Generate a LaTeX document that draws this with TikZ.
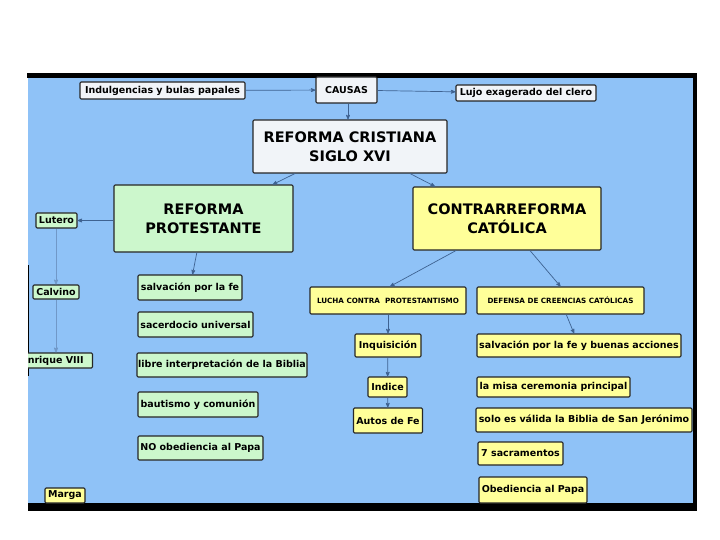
\documentclass[tikz,border=0pt]{standalone}
\usepackage{fontspec}
\setsansfont{DejaVu Sans}
\usepackage{xcolor}
\usepackage{tikz}
\usetikzlibrary{arrows, calc}

\definecolor{fondo}{RGB}{143,194,247}
\definecolor{verdeclaro}{RGB}{204,247,204}
\definecolor{amarilloclaro}{RGB}{255,255,153}
\definecolor{grisclaro}{RGB}{241,244,248}
\definecolor{linea}{RGB}{62,98,145}
\definecolor{lineaclara}{RGB}{112,152,200}

\begin{document}
\begin{tikzpicture}[x=1pt, y=-1pt,
				>=stealth',
				caja/.style={draw=black!85, line width=1.1pt, rounded corners=1.2pt, inner sep=0pt, align=center, text=black, font=\sffamily\bfseries\fontsize{9.5}{11}\selectfont},
				gris/.style={caja, fill=grisclaro},
				verde/.style={caja, fill=verdeclaro},
				amarillo/.style={caja, fill=amarilloclaro},
				titulo/.style={font=\sffamily\bfseries\fontsize{14.5}{19.5}\selectfont},
				mini/.style={font=\sffamily\bfseries\fontsize{7.2}{8}\selectfont},
				enlace/.style={->, draw=linea, line width=0.7pt},
				enlaceclaro/.style={->, draw=lineaclara, line width=0.8pt}]
				
				\useasboundingbox (0,0) rectangle (720,540);
				\fill[white] (0,0) rectangle (720,540);
				\fill[black] (27,73) rectangle (697,78);
				\fill[black] (693,73) rectangle (697,511);
				\fill[black] (28,503) rectangle (697,511);
				\fill[fondo] (28,78) rectangle (693,503);
				\draw[black, line width=1.2pt] (28.5,265) -- (28.5,376);
				
				\node[gris, minimum width=165, minimum height=17] (indulgencias) at (162.5,90.5) {Indulgencias y bulas papales};
				\node[gris, minimum width=61, minimum height=26] (causas) at (346.5,90) {CAUSAS};
				\node[gris, minimum width=140, minimum height=16] (lujo) at (526,93) {Lujo exagerado del clero};
				\node[gris, titulo, minimum width=194, minimum height=53] (cristiana) at (350,146.5) {REFORMA CRISTIANA\\SIGLO XVI};
				
				\node[verde, titulo, minimum width=179, minimum height=67] (protestante) at (203.5,218.5) {REFORMA\\PROTESTANTE};
				\node[amarillo, titulo, minimum width=188, minimum height=63] (contra) at (507,218.5) {CONTRARREFORMA\\CATÓLICA};
				
				\node[verde, minimum width=41, minimum height=15] (lutero) at (56.5,220.5) {Lutero};
				\node[verde, minimum width=46, minimum height=14] (calvino) at (56,292) {Calvino};
				\begin{scope}
					\clip (28,78) rectangle (693,503);
					\node[verde, minimum width=80, minimum height=15] (enrique) at (52.5,360.5) {Enrique VIII};
				\end{scope}
				\node[amarillo, minimum width=40, minimum height=15] (marga) at (65,495.5) {Marga};
				
				\node[verde, minimum width=104, minimum height=25] (salvacion) at (190,287.5) {salvación por la fe};
				\node[verde, minimum width=115, minimum height=25] (sacerdocio) at (195.5,324.5) {sacerdocio universal};
				\node[verde, minimum width=170, minimum height=24] (libre) at (222,365) {libre interpretación de la Biblia};
				\node[verde, minimum width=120, minimum height=25] (bautismo) at (198,404.5) {bautismo y comunión};
				\node[verde, minimum width=125, minimum height=24] (noobediencia) at (200.5,448) {NO obediencia al Papa};
				
				\node[amarillo, mini, minimum width=156, minimum height=27] (lucha) at (388,300.5) {LUCHA CONTRA\ \ PROTESTANTISMO};
				\node[amarillo, mini, minimum width=167, minimum height=27] (defensa) at (560.5,300.5) {DEFENSA DE CREENCIAS CATÓLICAS};
				\node[amarillo, minimum width=66, minimum height=23] (inquisicion) at (388,345.5) {Inquisición};
				\node[amarillo, minimum width=39, minimum height=20] (indice) at (387.5,387) {Indice};
				\node[amarillo, minimum width=69, minimum height=25] (autos) at (388,420.5) {Autos de Fe};
				
				\node[amarillo, minimum width=204, minimum height=23] (salvacionb) at (579,345.5) {salvación por la fe y buenas acciones};
				\node[amarillo, minimum width=153, minimum height=20] (misa) at (553.5,387) {la misa ceremonia principal};
				\node[amarillo, minimum width=216, minimum height=24] (biblia) at (584,420) {solo es válida la Biblia de San Jerónimo};
				\node[amarillo, minimum width=85, minimum height=23] (sacramentos) at (520.5,453.5) {7 sacramentos};
				\node[amarillo, minimum width=108, minimum height=26] (obediencia) at (533,490) {Obediencia al Papa};
				
				\draw[enlace] (indulgencias) -- (causas);
				\draw[enlace] (causas) -- (lujo);
				\draw[enlace] ($(causas.south)+(1.5,0)$) -- ($(causas.south |- cristiana.north)+(1.5,0)$);
				\draw[enlace] (cristiana) -- (protestante);
				\draw[enlace] ($(cristiana.south)+(60,0)$) -- ($(contra.north)+(-72,0)$);
				\draw[enlace] (protestante.west |- lutero) -- (lutero);
				\draw[enlaceclaro] (lutero.south -| calvino) -- (calvino);
				\draw[enlaceclaro] (calvino) -- (calvino |- enrique.north);
				\draw[enlace] (protestante) -- (salvacion);
				\draw[enlace] ($(contra.south)+(-51,0)$) -- ($(lucha.north)+(2,0)$);
				\draw[enlace] ($(contra.south)+(23,0)$) -- (defensa.north);
				\draw[enlace] (lucha) -- (inquisicion);
				\draw[enlace] (inquisicion) -- (indice);
				\draw[enlace] (indice) -- (autos);
				\draw[enlace] (defensa) -- (salvacionb);
			\end{tikzpicture}
\end{document}
